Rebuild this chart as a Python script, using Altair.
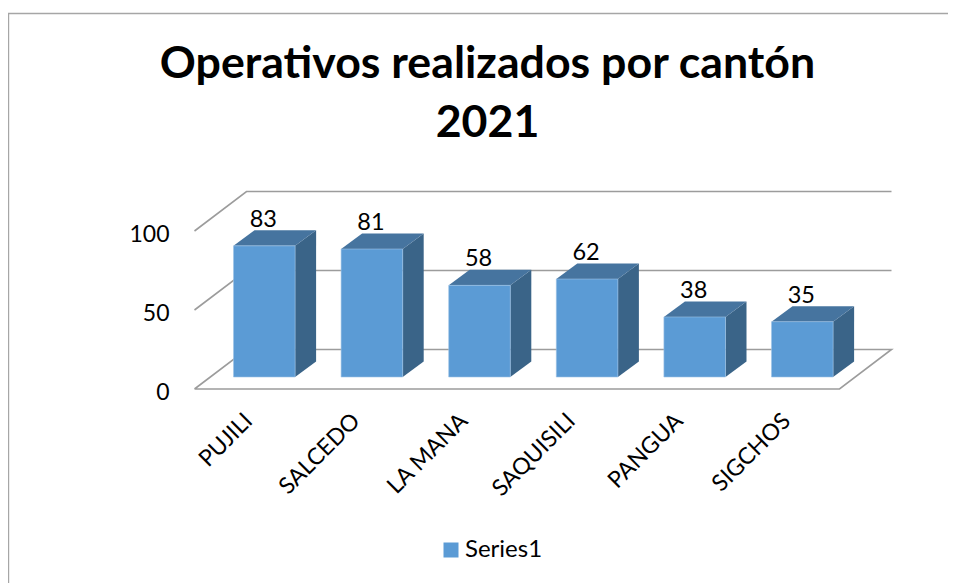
import altair as alt
import pandas as pd

categories = ["PUJILI", "SALCEDO", "LA MANA", "SAQUISILI", "PANGUA", "SIGCHOS"]
values = [83, 81, 58, 62, 38, 35]
y_ticks = [0, 50, 100]
series_name = "Series1"
title_lines = ["Operativos realizados por cantón", "2021"]

FONT = "Lato"
W, H = 940, 575
LEFT, TOP = 8, 8              # page margin
PITCH = 107.6                 # page px per category
X0_PAGE = 264.3               # page x of first category centre
PXU = 1.58                    # page px per value unit
Y0_PAGE = 389.0               # page y of value 0 on the front floor edge


def xu(page_x):
    return (page_x - X0_PAGE) / PITCH


def yu(page_y):
    return (Y0_PAGE - page_y) / PXU


x_scale = alt.Scale(domain=[xu(LEFT), xu(LEFT + W)], range=[0, W], nice=False, zero=False)
y_scale = alt.Scale(domain=[yu(TOP + H), yu(TOP)], range=[H, 0], nice=False, zero=False)

half = 30.8 / PITCH
bar_dx = 21 / PITCH
bar_dy = 15.5 / PXU
base = (Y0_PAGE - 377) / PXU
wall_dx = 52 / PITCH
wall_dy = 39.5 / PXU
floor_l, floor_r = xu(194.5), xu(839.5)

# wall + floor outline
lines = []
for g in y_ticks:
    if g == 0:
        pts = [(floor_l, 0), (floor_r, 0), (floor_r + wall_dx, wall_dy),
               (floor_l + wall_dx, wall_dy), (floor_l, 0)]
    else:
        pts = [(floor_l, g), (floor_l + wall_dx, g + wall_dy), (floor_r + wall_dx, g + wall_dy)]
    for k, (x, y) in enumerate(pts):
        lines.append({"g": g, "k": k, "x": x, "y": y})
lines_df = pd.DataFrame(lines)

front, side, top, labels = [], [], [], []
for i, (c, v) in enumerate(zip(categories, values)):
    L, R = i - half, i + half
    t = base + v
    front.append({"c": c, "x": L, "x2": R, "y": t, "y2": base, "s": series_name})
    side += [
        {"c": c, "x": R, "y": t, "y2": base},
        {"c": c, "x": R + bar_dx, "y": t + bar_dy, "y2": base + bar_dy},
    ]
    top += [
        {"c": c, "x": L, "y": t, "y2": t},
        {"c": c, "x": L + bar_dx, "y": t + bar_dy, "y2": t},
        {"c": c, "x": R, "y": t + bar_dy, "y2": t},
        {"c": c, "x": R + bar_dx, "y": t + bar_dy, "y2": t + bar_dy},
    ]
    labels.append({"x": i - 1 / PITCH, "y": t + bar_dy + 10.5 / PXU, "t": str(v)})

label_expr = "[" + ",".join(f"'{c}'" for c in categories) + "][datum.value]"

x_axis = alt.Axis(
    values=list(range(len(categories))), labelExpr=label_expr, labelAngle=315,
    labelAlign="right", labelBaseline="middle", labelFont=FONT, labelFontSize=23,
    labelColor="#000000", labelPadding=0, labelOffset=-16, domain=False, ticks=False,
    grid=False, title=None, offset=-166)
y_axis = alt.Axis(
    values=y_ticks, labelFont=FONT, labelFontSize=23, labelColor="#000000",
    labelOffset=3, domain=False, ticks=False, grid=False, labelPadding=0, title=None,
    offset=-161)

X = alt.X("x:Q", scale=x_scale, axis=x_axis)
Y = alt.Y("y:Q", scale=y_scale, axis=y_axis, stack=None)

grid = alt.Chart(lines_df).mark_line(color="#9C9C9C", strokeWidth=1.6).encode(
    x=X, y=Y, detail="g:N", order="k:Q")

bars = alt.Chart(pd.DataFrame(front)).mark_bar(stroke="#9DC3E6", strokeWidth=0.6).encode(
    x=X, x2="x2:Q", y=Y, y2="y2:Q",
    color=alt.Color("s:N", scale=alt.Scale(domain=[series_name], range=["#5B9BD5"]),
                    legend=alt.Legend(title=None, orient="none", legendX=431, legendY=530,
                                      symbolType="square", symbolSize=225, symbolStrokeWidth=0,
                                      labelFont=FONT, labelFontSize=24, labelColor="#000000",
                                      labelOffset=2)),
)

sides = alt.Chart(pd.DataFrame(side)).mark_area(color="#3A6488").encode(
    x=X, y=Y, y2="y2:Q", detail="c:N")

tops = alt.Chart(pd.DataFrame(top)).mark_area(color="#46749F").encode(
    x=X, y=Y, y2="y2:Q", detail="c:N")

texts = alt.Chart(pd.DataFrame(labels)).mark_text(
    font=FONT, fontSize=23.5, color="#000000", baseline="middle", align="center"
).encode(x=X, y=Y, text="t:N")

frame_top = alt.Chart(pd.DataFrame({"a": [0]})).mark_rule(color="#A6A6A6", strokeWidth=1.4).encode(
    x=alt.value(0), x2=alt.value(W), y=alt.value(13.5 - TOP))
frame_left = alt.Chart(pd.DataFrame({"a": [0]})).mark_rule(color="#A6A6A6", strokeWidth=1.4).encode(
    x=alt.value(0.5), y=alt.value(13.5 - TOP), y2=alt.value(H))

chart = alt.layer(frame_top, frame_left, grid, sides, tops, bars, texts).properties(
    width=W, height=H, padding=0, autosize=alt.AutoSizeParams(type="none"),
    title=alt.TitleParams(text=title_lines, font=FONT, fontSize=44.7, fontWeight="bold",
                          color="#000000", anchor="middle", dx=9.5, dy=143,
                          lineHeight=59),
).configure_view(stroke=None)

chart.save("out.html", embed_options={"renderer": "svg", "actions": False})
